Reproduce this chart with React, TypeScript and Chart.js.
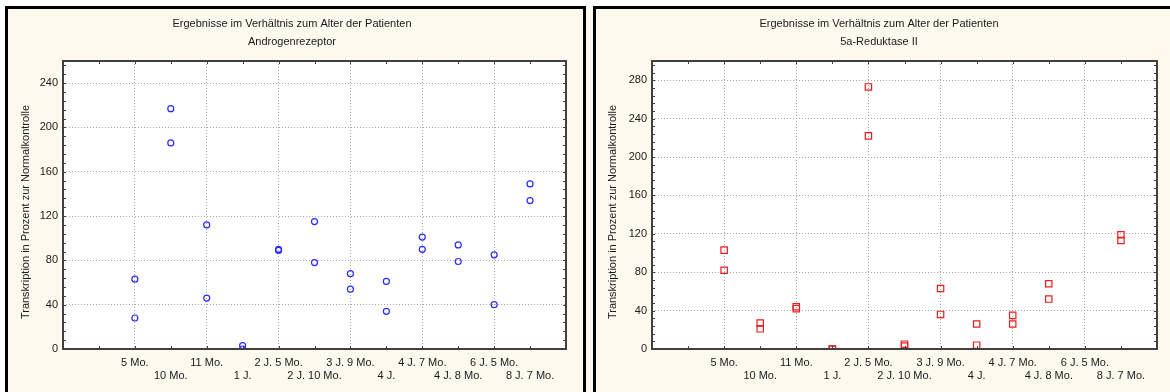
import React, { useEffect, useRef } from 'react';
import { Chart, registerables } from 'chart.js';

Chart.register(...registerables);

// ---------- data ----------
const categories = [
  '5 Mo.', '10 Mo.', '11 Mo.', '1 J.', '2 J. 5 Mo.', '2 J. 10 Mo.',
  '3 J. 9 Mo.', '4 J.', '4 J. 7 Mo.', '4 J. 8 Mo.', '6 J. 5 Mo.', '8 J. 7 Mo.',
];
const categoryOffset = 2; // first category sits at x = 2 on a 0..14 axis
const xMin = 0;
const xMax = 14;

const androgenFirst = [63, 217, 112, 3, 89, 115, 68, 61, 101, 94, 85, 149];
const androgenSecond = [28, 186, 46, 0, 90, 78, 54, 34, 90, 79, 40, 134];

const reduktaseFirst = [103, 27, 44, 0, 273, 5, 63, 26, 35, 68, null, 119];
const reduktaseSecond = [82, 21, 42, 0, 222, 3, 36, 4, 26, 52, null, 113];

const leftYTicks = [0, 40, 80, 120, 160, 200, 240];
const leftYMax = 260;
const rightYTicks = [0, 40, 80, 120, 160, 200, 240, 280];
const rightYMax = 300;
const minorStep = 8;

const mainTitle = 'Ergebnisse im Verhältnis zum Alter der Patienten';
const leftSubtitle = 'Androgenrezeptor';
const rightSubtitle = '5a-Reduktase II';
const yAxisTitle = 'Transkription in Prozent zur Normalkontrolle';

// ---------- styling ----------
const FONT = '"Liberation Sans", Arial, Helvetica, sans-serif';
const CREAM = '#fdf9ee';
const TEXT = '#1a1a1a';
const GRID = '#a8a8a8';
const FRAME = '#404040';

type PanelProps = {
  width: number;
  height: number;
  subtitle: string;
  first: (number | null)[];
  second: (number | null)[];
  yTicks: number[];
  yMax: number;
  color: string;
  pointStyle: string;
  pointRadius: number;
  rightPad: number;
  yAxisWidth: number;
  titleX: number;
  yTitleX: number;
};

function toPoints(values: (number | null)[]) {
  const pts: { x: number; y: number }[] = [];
  values.forEach((v, i) => {
    if (v !== null) pts.push({ x: i + categoryOffset, y: v });
  });
  return pts;
}

function Panel(p: PanelProps) {
  const ref = useRef<HTMLCanvasElement | null>(null);

  useEffect(() => {
    const canvas = ref.current;
    if (!canvas) return;

    const decor = {
      id: 'decor',
      beforeDraw(chart: any) {
        const { ctx, chartArea: a } = chart;
        ctx.save();
        ctx.fillStyle = '#ffffff';
        ctx.fillRect(a.left, a.top, a.right - a.left, a.bottom - a.top);
        ctx.restore();
      },
      afterDatasetsDraw(chart: any) {
        const { ctx, chartArea: a, scales } = chart;
        ctx.save();
        // minor / inner ticks
        ctx.strokeStyle = FRAME;
        ctx.lineWidth = 1;
        ctx.beginPath();
        for (let v = xMin + 1; v < xMax; v++) {
          const x = Math.round(scales.x.getPixelForValue(v)) + 0.5;
          ctx.moveTo(x, a.top);
          ctx.lineTo(x, a.top + 3);
          ctx.moveTo(x, a.bottom);
          ctx.lineTo(x, a.bottom - 3);
        }
        for (let v = minorStep; v < p.yMax; v += minorStep) {
          const y = Math.round(scales.y.getPixelForValue(v)) + 0.5;
          ctx.moveTo(a.left, y);
          ctx.lineTo(a.left + 3, y);
          ctx.moveTo(a.right, y);
          ctx.lineTo(a.right - 3, y);
        }
        ctx.stroke();
        // frame
        ctx.lineWidth = 2;
        ctx.strokeStyle = FRAME;
        ctx.strokeRect(a.left, a.top, a.right - a.left, a.bottom - a.top);
        ctx.restore();
      },
      afterDraw(chart: any) {
        const { ctx } = chart;
        ctx.save();
        ctx.fillStyle = TEXT;
        ctx.font = `11px ${FONT}`;
        ctx.textAlign = 'center';
        ctx.textBaseline = 'middle';
        ctx.fillText(mainTitle, p.titleX, 15);
        ctx.fillText(p.subtitle, p.titleX, 33);
        ctx.translate(p.yTitleX, 203);
        ctx.rotate(-Math.PI / 2);
        ctx.fillText(yAxisTitle, 0, 0);
        ctx.restore();
      },
    };

    const chart = new Chart(canvas, {
      type: 'scatter',
      data: {
        datasets: [
          {
            data: toPoints(p.first),
            pointStyle: p.pointStyle as any,
            pointRadius: p.pointRadius,
            pointBorderColor: p.color,
            pointBackgroundColor: 'rgba(0,0,0,0)',
            pointBorderWidth: 1.2,
            clip: 0,
          },
          {
            data: toPoints(p.second),
            pointStyle: p.pointStyle as any,
            pointRadius: p.pointRadius,
            pointBorderColor: p.color,
            pointBackgroundColor: 'rgba(0,0,0,0)',
            pointBorderWidth: 1.2,
            clip: 0,
          },
        ],
      },
      options: {
        responsive: false,
        animation: false,
        events: [],
        layout: { padding: { left: 0, right: p.rightPad, top: 52, bottom: 0 } },
        plugins: {
          legend: { display: false },
          title: { display: false },
          tooltip: { enabled: false },
        },
        scales: {
          x: {
            type: 'linear',
            min: xMin,
            max: xMax,
            afterBuildTicks: (scale: any) => {
              const t = [];
              for (let v = xMin; v <= xMax; v++) t.push({ value: v });
              scale.ticks = t;
            },
            afterFit: (scale: any) => {
              scale.height = 43;
              scale.paddingLeft = 0;
              scale.paddingRight = 0;
            },
            border: { display: false, dash: [1, 2] },
            grid: {
              drawTicks: false,
              lineWidth: 1,
              color: (ctx: any) => {
                const v = ctx.tick ? ctx.tick.value : -1;
                return v > xMin && v < xMax && v % 2 === 0 ? GRID : 'rgba(0,0,0,0)';
              },
            },
            ticks: {
              autoSkip: false,
              maxRotation: 0,
              padding: 7,
              color: TEXT,
              font: { family: FONT, size: 11, lineHeight: 1.2 },
              callback: (value: any) => {
                const i = Number(value) - categoryOffset;
                if (i < 0 || i >= categories.length) return '';
                return i % 2 === 0 ? [categories[i], ''] : ['', categories[i]];
              },
            },
          },
          y: {
            type: 'linear',
            min: 0,
            max: p.yMax,
            afterBuildTicks: (scale: any) => {
              scale.ticks = p.yTicks.map((v) => ({ value: v }));
            },
            afterFit: (scale: any) => {
              scale.width = p.yAxisWidth;
              scale.paddingTop = 0;
              scale.paddingBottom = 0;
            },
            border: { display: false, dash: [1, 2] },
            grid: {
              drawTicks: false,
              lineWidth: 1,
              color: (ctx: any) => {
                const v = ctx.tick ? ctx.tick.value : 0;
                return v > 0 ? GRID : 'rgba(0,0,0,0)';
              },
            },
            ticks: {
              padding: 5,
              color: TEXT,
              font: { family: FONT, size: 11 },
              callback: (value: any) => String(value),
            },
          },
        },
      } as any,
      plugins: [decor],
    });

    return () => chart.destroy();
  }, []);

  return <canvas ref={ref} width={p.width} height={p.height} style={{ display: 'block' }} />;
}

export default function App() {
  return (
    <div
      style={{
        position: 'absolute',
        left: 0,
        top: 0,
        width: 1170,
        height: 392,
        overflow: 'hidden',
        background: '#ffffff',
      }}
    >
      <div style={{ position: 'absolute', left: 586, top: 6, width: 7, height: 400, background: CREAM }} />
      <div
        style={{
          position: 'absolute',
          left: 5,
          top: 6,
          width: 581,
          height: 400,
          boxSizing: 'border-box',
          border: '3px solid #000',
          borderBottom: 'none',
          background: CREAM,
        }}
      >
        <Panel
          width={575}
          height={383}
          subtitle={leftSubtitle}
          first={androgenFirst}
          second={androgenSecond}
          yTicks={leftYTicks}
          yMax={leftYMax}
          color="#2b2bff"
          pointStyle="circle"
          pointRadius={3}
          rightPad={17}
          yAxisWidth={55}
          titleX={284}
          yTitleX={18}
        />
      </div>
      <div
        style={{
          position: 'absolute',
          left: 593,
          top: 6,
          width: 600,
          height: 400,
          boxSizing: 'border-box',
          border: '3px solid #000',
          borderBottom: 'none',
          background: CREAM,
        }}
      >
        <Panel
          width={574}
          height={383}
          subtitle={rightSubtitle}
          first={reduktaseFirst}
          second={reduktaseSecond}
          yTicks={rightYTicks}
          yMax={rightYMax}
          color="#ee1c1c"
          pointStyle="rect"
          pointRadius={4.5}
          rightPad={13}
          yAxisWidth={56}
          titleX={283}
          yTitleX={17}
        />
      </div>
    </div>
  );
}
